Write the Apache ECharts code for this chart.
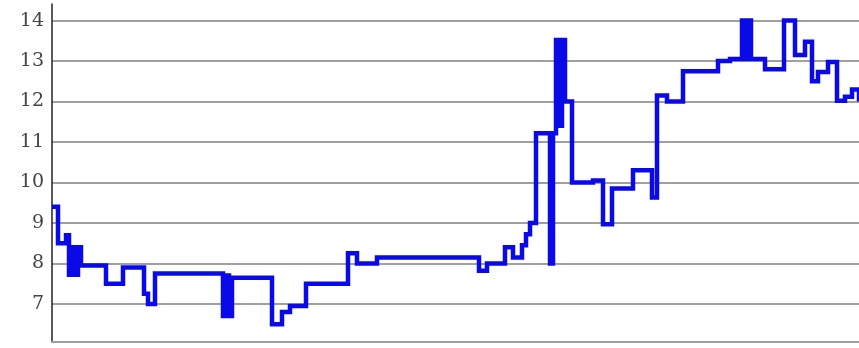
<!DOCTYPE html>
<html>
<head>
<meta charset="utf-8">
<script src="https://cdn.jsdelivr.net/npm/echarts@6/dist/echarts.min.js"></script>
<style>html,body{margin:0;padding:0;background:#fff}#c{width:859px;height:348px}</style>
</head>
<body>
<div id="c"></div>
<script>
// Positions along the (unlabelled) horizontal axis where the value changes
var stepX = [0, 6, 14, 17, 20, 23, 26, 29, 54, 71, 92, 96, 103, 171, 174, 177, 180, 220, 230, 238, 254, 296, 305, 325, 427, 435, 453, 461, 470, 474, 478, 484, 498, 501, 504, 507, 510, 513, 520, 541, 551, 560, 581, 600, 605, 615, 631, 666, 678, 690, 693, 696, 699, 713, 732, 743, 753, 760, 766, 776, 785, 793, 800, 807];
// Value held from each position until the next one
var stepY = [9.4, 8.5, 8.7, 7.72, 8.4, 7.72, 8.4, 7.95, 7.5, 7.9, 7.25, 7.0, 7.75, 6.7, 7.7, 6.7, 7.65, 6.5, 6.8, 6.95, 7.5, 8.25, 8.0, 8.15, 7.82, 8.0, 8.4, 8.15, 8.45, 8.72, 9.0, 11.22, 8.0, 11.22, 13.52, 11.4, 13.52, 12.0, 10.0, 10.05, 8.97, 9.85, 10.3, 9.63, 12.15, 12.0, 12.75, 13.0, 13.05, 14.0, 13.05, 14.0, 13.05, 12.8, 14.0, 13.15, 13.48, 12.5, 12.73, 12.98, 12.02, 12.12, 12.3, 12.0];
var yTicks = [7, 8, 9, 10, 11, 12, 13, 14];

var data = stepX.map(function (x, i) { return [x, stepY[i]]; });

var chart = echarts.init(document.getElementById('c'));
chart.setOption({
  animation: false,
  backgroundColor: '#ffffff',
  grid: { left: 52, right: 0, top: 4, bottom: 6, containLabel: false },
  xAxis: {
    type: 'value', min: 0, max: 807,
    axisLine: { show: true, onZero: false, lineStyle: { color: '#a0a0a0', width: 2 } },
    axisTick: { show: false }, axisLabel: { show: false }, splitLine: { show: false }
  },
  yAxis: {
    type: 'value', min: 6.06, max: 14.41,
    axisLine: { show: true, lineStyle: { color: '#222', width: 1.5 } },
    axisTick: { show: false, customValues: yTicks },
    axisLabel: {
      customValues: yTicks, margin: 8, color: '#444',
      fontFamily: 'DejaVu Serif', fontSize: 19
    },
    splitLine: { show: true, lineStyle: { color: '#a0a0a0', width: 1.8 } }
  },
  series: [{
    type: 'line', step: 'end', data: data, symbol: 'none',
    lineStyle: { color: '#0a0ae8', width: 4.5, join: 'miter' }
  }]
});
</script>
</body>
</html>
